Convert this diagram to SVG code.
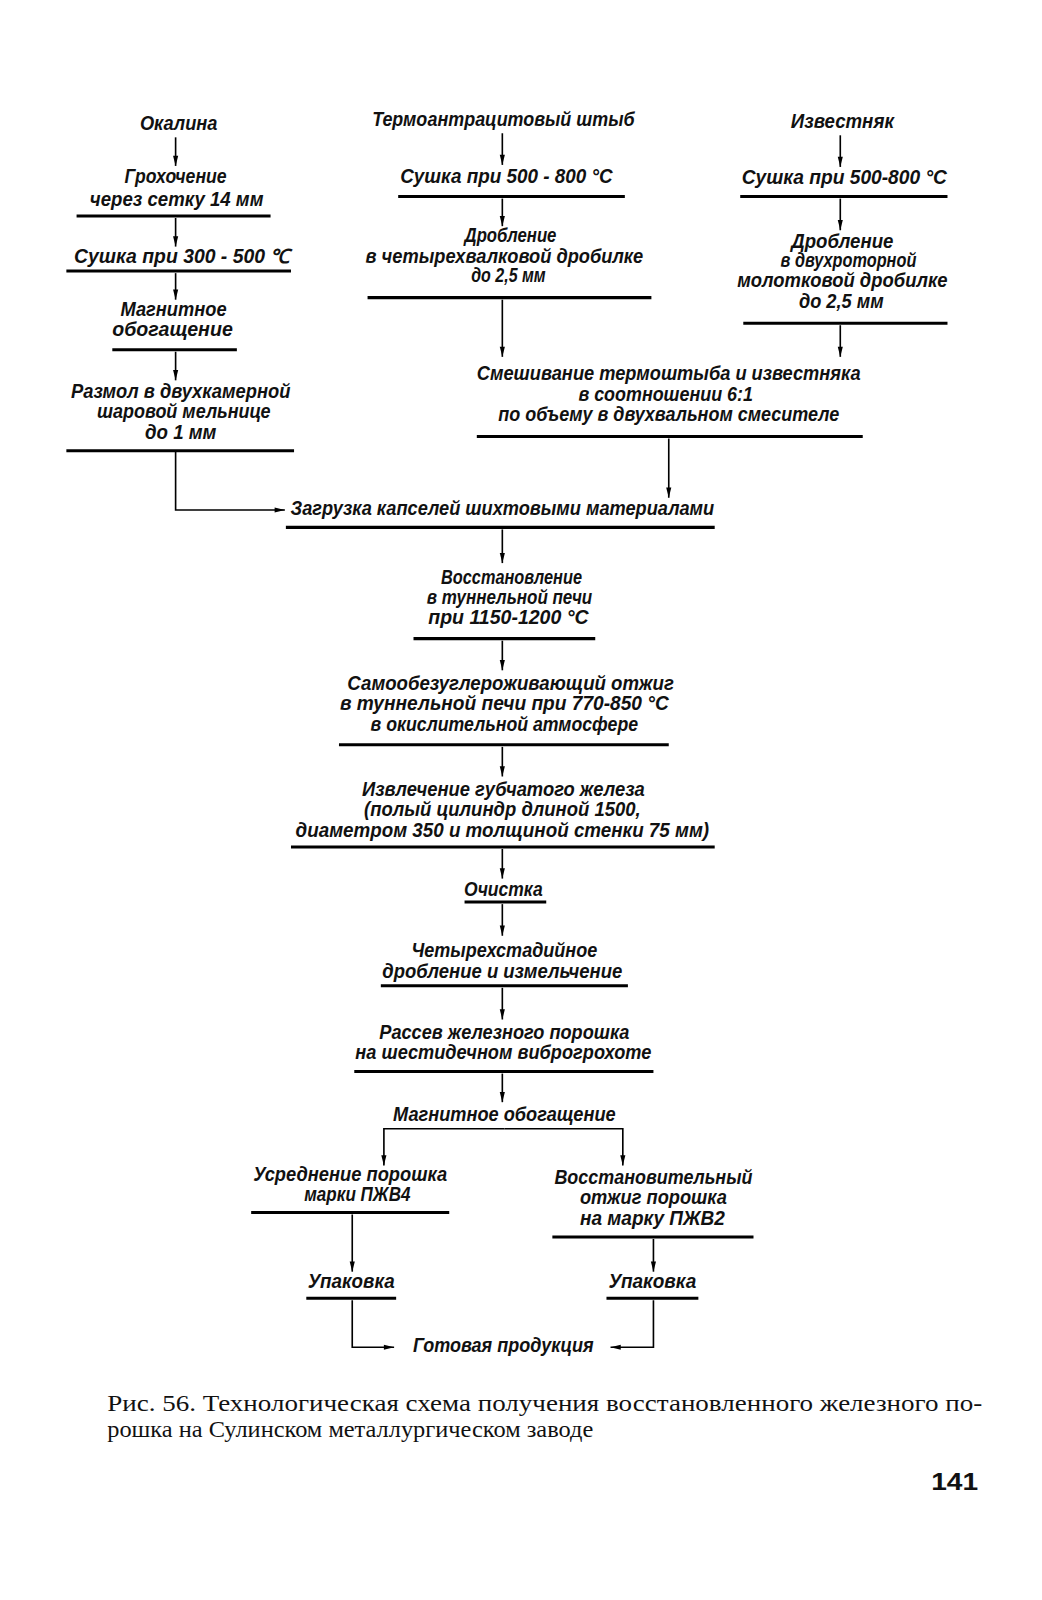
<svg xmlns="http://www.w3.org/2000/svg" width="1042" height="1600" viewBox="0 0 1042 1600">
<defs>
<marker id="ah" viewBox="0 0 10 6" refX="10" refY="3" markerWidth="11" markerHeight="6" markerUnits="userSpaceOnUse" orient="auto">
<path d="M0,0.5 L10,3 L0,5.5 Z" fill="#000"/>
</marker>
</defs>
<style>
text{font-family:"Liberation Sans",Arial,sans-serif;font-style:italic;font-weight:bold;font-size:19px;fill:#111;text-anchor:middle}
.u{stroke:#000;stroke-width:3;fill:none}
.c{stroke:#000;stroke-width:1.6;fill:none}
.cap{font-family:"Liberation Serif","Times New Roman",serif;font-style:normal;font-weight:normal;font-size:22px;text-anchor:start}
.pg{font-family:"Liberation Sans",Arial,sans-serif;font-style:normal;font-weight:bold;font-size:24px;text-anchor:start}
</style>
<rect width="1042" height="1600" fill="#fff"/>
<g transform="translate(0,-0.5) scale(1.021)">
<g id="n-okalina"><text x="175" y="128" textLength="76" lengthAdjust="spacingAndGlyphs">Окалина</text></g>
<g id="n-grokh"><text x="172" y="180" textLength="100" lengthAdjust="spacingAndGlyphs">Грохочение</text><text x="173" y="202" textLength="170" lengthAdjust="spacingAndGlyphs">через сетку 14 мм</text><line class="u" x1="75" y1="212" x2="265" y2="212"/></g>
<g id="n-sushka1"><text x="178" y="258" textLength="211" lengthAdjust="spacingAndGlyphs">Сушка при 300 - 500 ℃</text><line class="u" x1="65" y1="266" x2="285" y2="266"/></g>
<g id="n-magn1"><text x="170" y="310" textLength="104" lengthAdjust="spacingAndGlyphs">Магнитное</text><text x="169" y="330" textLength="118" lengthAdjust="spacingAndGlyphs">обогащение</text><line class="u" x1="110" y1="343" x2="232" y2="343"/></g>
<g id="n-razmol"><text x="177" y="390" textLength="215" lengthAdjust="spacingAndGlyphs">Размол в двухкамерной</text><text x="180" y="410" textLength="170" lengthAdjust="spacingAndGlyphs">шаровой мельнице</text><text x="177" y="430" textLength="70" lengthAdjust="spacingAndGlyphs">до 1 мм</text><line class="u" x1="65" y1="442" x2="288" y2="442"/></g>

<g id="n-shtyb"><text x="493" y="124" textLength="257" lengthAdjust="spacingAndGlyphs">Термоантрацитовый штыб</text></g>
<g id="n-sushka2"><text x="496" y="180" textLength="208" lengthAdjust="spacingAndGlyphs">Сушка при 500 - 800 °С</text><line class="u" x1="390" y1="193" x2="612" y2="193"/></g>
<g id="n-drob1"><text x="500" y="238" textLength="90" lengthAdjust="spacingAndGlyphs">Дробление</text><text x="494" y="258" textLength="272" lengthAdjust="spacingAndGlyphs">в четырехвалковой дробилке</text><text x="498" y="277" textLength="73" lengthAdjust="spacingAndGlyphs">до 2,5 мм</text><line class="u" x1="360" y1="292" x2="638" y2="292"/></g>

<g id="n-izv"><text x="825" y="126" textLength="101" lengthAdjust="spacingAndGlyphs">Известняк</text></g>
<g id="n-sushka3"><text x="827" y="181" textLength="201" lengthAdjust="spacingAndGlyphs">Сушка при 500-800 °С</text><line class="u" x1="725" y1="193" x2="928" y2="193"/></g>
<g id="n-drob2"><text x="825" y="243" textLength="100" lengthAdjust="spacingAndGlyphs">Дробление</text><text x="831" y="262" textLength="133" lengthAdjust="spacingAndGlyphs">в двухроторной</text><text x="825" y="282" textLength="206" lengthAdjust="spacingAndGlyphs">молотковой дробилке</text><text x="824" y="302" textLength="83" lengthAdjust="spacingAndGlyphs">до 2,5 мм</text><line class="u" x1="728" y1="317" x2="928" y2="317"/></g>

<g id="n-mix"><text x="655" y="373" textLength="376" lengthAdjust="spacingAndGlyphs">Смешивание термоштыба и известняка</text><text x="652" y="393" textLength="171" lengthAdjust="spacingAndGlyphs">в соотношении 6:1</text><text x="655" y="413" textLength="334" lengthAdjust="spacingAndGlyphs">по объему в двухвальном смесителе</text><line class="u" x1="467" y1="428" x2="845" y2="428"/></g>

<g id="n-zagr"><text x="492" y="505" textLength="415" lengthAdjust="spacingAndGlyphs">Загрузка капселей шихтовыми материалами</text><line class="u" x1="280" y1="517" x2="700" y2="517"/></g>
<g id="n-vosst"><text x="501" y="572" textLength="138" lengthAdjust="spacingAndGlyphs">Восстановление</text><text x="499" y="592" textLength="162" lengthAdjust="spacingAndGlyphs">в туннельной печи</text><text x="498" y="612" textLength="157" lengthAdjust="spacingAndGlyphs">при 1150-1200 °С</text><line class="u" x1="405" y1="626" x2="583" y2="626"/></g>
<g id="n-otzhig"><text x="500" y="676" textLength="320" lengthAdjust="spacingAndGlyphs">Самообезуглероживающий отжиг</text><text x="494" y="696" textLength="322" lengthAdjust="spacingAndGlyphs">в туннельной печи при 770-850 °С</text><text x="494" y="716" textLength="262" lengthAdjust="spacingAndGlyphs">в окислительной атмосфере</text><line class="u" x1="332" y1="730" x2="655" y2="730"/></g>
<g id="n-izvl"><text x="493" y="780" textLength="277" lengthAdjust="spacingAndGlyphs">Извлечение губчатого железа</text><text x="492" y="800" textLength="271" lengthAdjust="spacingAndGlyphs">(полый цилиндр длиной 1500,</text><text x="492" y="820" textLength="405" lengthAdjust="spacingAndGlyphs">диаметром 350 и толщиной стенки 75 мм)</text><line class="u" x1="285" y1="830" x2="700" y2="830"/></g>
<g id="n-ochist"><text x="493" y="878" textLength="77" lengthAdjust="spacingAndGlyphs">Очистка</text><line class="u" x1="455" y1="884" x2="535" y2="884"/></g>
<g id="n-chetyr"><text x="494" y="938" textLength="182" lengthAdjust="spacingAndGlyphs">Четырехстадийное</text><text x="492" y="958" textLength="235" lengthAdjust="spacingAndGlyphs">дробление и измельчение</text><line class="u" x1="373" y1="966" x2="615" y2="966"/></g>
<g id="n-rassev"><text x="494" y="1018" textLength="245" lengthAdjust="spacingAndGlyphs">Рассев железного порошка</text><text x="493" y="1038" textLength="290" lengthAdjust="spacingAndGlyphs">на шестидечном виброгрохоте</text><line class="u" x1="347" y1="1050" x2="640" y2="1050"/></g>
<g id="n-magn2"><text x="494" y="1098" textLength="218" lengthAdjust="spacingAndGlyphs">Магнитное обогащение</text></g>

<g id="n-usredn"><text x="343" y="1157" textLength="190" lengthAdjust="spacingAndGlyphs">Усреднение порошка</text><text x="350" y="1177" textLength="104" lengthAdjust="spacingAndGlyphs">марки ПЖВ4</text><line class="u" x1="246" y1="1188" x2="440" y2="1188"/></g>
<g id="n-vosst2"><text x="640" y="1160" textLength="194" lengthAdjust="spacingAndGlyphs">Восстановительный</text><text x="640" y="1180" textLength="144" lengthAdjust="spacingAndGlyphs">отжиг порошка</text><text x="639" y="1200" textLength="142" lengthAdjust="spacingAndGlyphs">на марку ПЖВ2</text><line class="u" x1="541" y1="1212" x2="738" y2="1212"/></g>
<g id="n-upak1"><text x="344" y="1262" textLength="85" lengthAdjust="spacingAndGlyphs">Упаковка</text><line class="u" x1="300" y1="1272" x2="388" y2="1272"/></g>
<g id="n-upak2"><text x="639" y="1262" textLength="86" lengthAdjust="spacingAndGlyphs">Упаковка</text><line class="u" x1="594" y1="1272" x2="684" y2="1272"/></g>
<g id="n-gotov"><text x="493" y="1325" textLength="177" lengthAdjust="spacingAndGlyphs">Готовая продукция</text></g>

<g id="connectors">
<line class="c" x1="172" y1="135" x2="172" y2="163" marker-end="url(#ah)"/>
<line class="c" x1="172" y1="214" x2="172" y2="242" marker-end="url(#ah)"/>
<line class="c" x1="172" y1="268" x2="172" y2="294" marker-end="url(#ah)"/>
<line class="c" x1="172" y1="345" x2="172" y2="373" marker-end="url(#ah)"/>
<path class="c" d="M172,442 V500 H279" marker-end="url(#ah)"/>
<line class="c" x1="492" y1="131" x2="492" y2="162" marker-end="url(#ah)"/>
<line class="c" x1="492" y1="195" x2="492" y2="222" marker-end="url(#ah)"/>
<line class="c" x1="492" y1="294" x2="492" y2="350" marker-end="url(#ah)"/>
<line class="c" x1="823" y1="133" x2="823" y2="164" marker-end="url(#ah)"/>
<line class="c" x1="823" y1="195" x2="823" y2="226" marker-end="url(#ah)"/>
<line class="c" x1="823" y1="319" x2="823" y2="350" marker-end="url(#ah)"/>
<line class="c" x1="655" y1="430" x2="655" y2="488" marker-end="url(#ah)"/>
<line class="c" x1="492" y1="519" x2="492" y2="552" marker-end="url(#ah)"/>
<line class="c" x1="492" y1="628" x2="492" y2="657" marker-end="url(#ah)"/>
<line class="c" x1="492" y1="732" x2="492" y2="761" marker-end="url(#ah)"/>
<line class="c" x1="492" y1="832" x2="492" y2="861" marker-end="url(#ah)"/>
<line class="c" x1="492" y1="886" x2="492" y2="917" marker-end="url(#ah)"/>
<line class="c" x1="492" y1="968" x2="492" y2="999" marker-end="url(#ah)"/>
<line class="c" x1="492" y1="1052" x2="492" y2="1080" marker-end="url(#ah)"/>
<path class="c" d="M494,1106 H376 V1142" marker-end="url(#ah)"/>
<path class="c" d="M494,1106 H610 V1142" marker-end="url(#ah)"/>
<line class="c" x1="345" y1="1190" x2="345" y2="1246" marker-end="url(#ah)"/>
<line class="c" x1="640" y1="1214" x2="640" y2="1246" marker-end="url(#ah)"/>
<path class="c" d="M345,1274 V1320 H386" marker-end="url(#ah)"/>
<path class="c" d="M640,1274 V1320 H598" marker-end="url(#ah)"/>
</g>

<text class="cap" x="105" y="1382" textLength="857" lengthAdjust="spacingAndGlyphs">Рис. 56. Технологическая схема получения восстановленного железного по-</text>
<text class="cap" x="105" y="1408" textLength="476" lengthAdjust="spacingAndGlyphs">рошка на Сулинском металлургическом заводе</text>
<text class="pg" x="912" y="1460" textLength="46" lengthAdjust="spacingAndGlyphs">141</text>
</g>
</svg>
